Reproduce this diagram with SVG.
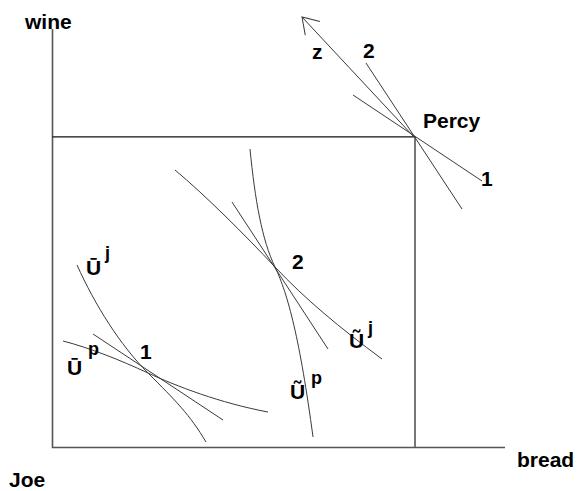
<svg xmlns="http://www.w3.org/2000/svg" width="580" height="491" viewBox="0 0 580 491">
<style>
text{font-family:"Liberation Sans",Arial,sans-serif;font-weight:bold;fill:#000;font-size:21px}
.sup{font-size:18px}
.axis{stroke:#555;stroke-width:1.6;fill:none}
.box{stroke:#111;stroke-width:1.2;fill:none}
.curve{stroke:#3a3a3a;stroke-width:1;fill:none}
</style>
<defs>
<marker id="openArrow" markerUnits="userSpaceOnUse" markerWidth="40" markerHeight="40" refX="0" refY="0" orient="auto" viewBox="-20 -20 40 40" overflow="visible">
<path d="M-15.5,-10 L0,0 L-15.5,10" fill="none" stroke="#3a3a3a" stroke-width="1"/>
</marker>
</defs>
<rect width="580" height="491" fill="#fff"/>
<g id="axes">
<path class="axis" d="M52.5,29 L52.5,447.5 L505,447.5"/>
<path class="box" d="M52.5,136.8 L415,136.8"/>
<path class="axis" d="M415,136.8 L415,447.5"/>
</g>
<g id="connectors">
<path id="u-bar-j" class="curve" d="M77,265 C95,305 120,345 148,373 S190,415 206,442"/>
<path id="u-bar-p" class="curve" d="M63,341 C90,348 120,360 148,373 S220,403 268,412"/>
<path id="price1" class="curve" d="M93,334 L223,420"/>
<path id="u-tilde-p" class="curve" d="M250,149 C255,200 262,240 275,267 S300,340 313,437"/>
<path id="u-tilde-j" class="curve" d="M175,170 C205,195 245,235 275,267 S340,328 382,359"/>
<path id="price2" class="curve" d="M232,202 L328,349"/>
<path id="percy-line2" class="curve" d="M366,63 L462,209"/>
<path id="percy-line1" class="curve" d="M353,95 L482,181"/>
<path id="z-arrow" class="curve" d="M414,137 L302,17" marker-end="url(#openArrow)"/>
</g>
<g id="labels">
<text id="wine" x="25" y="29">wine</text>
<text id="bread" x="517" y="467">bread</text>
<text id="joe" x="9" y="487">Joe</text>
<text id="percy" x="423" y="128">Percy</text>
<text id="z" x="312" y="59">z</text>
<text id="lbl-2top" x="363" y="58">2</text>
<text id="lbl-1right" x="481" y="186">1</text>
<text id="lbl-1" x="140" y="359">1</text>
<text id="lbl-2" x="292" y="269">2</text>
<g id="ubarj"><text x="86" y="275">Ū</text><text class="sup" x="105" y="259">j</text></g>
<g id="ubarp"><text x="67" y="375">Ū</text><text class="sup" x="88" y="355">p</text></g>
<g id="utildej"><text x="349" y="348">Ũ</text><text class="sup" x="368" y="334">j</text></g>
<g id="utildep"><text x="290" y="399">Ũ</text><text class="sup" x="311" y="384">p</text></g>
</g>
</svg>
